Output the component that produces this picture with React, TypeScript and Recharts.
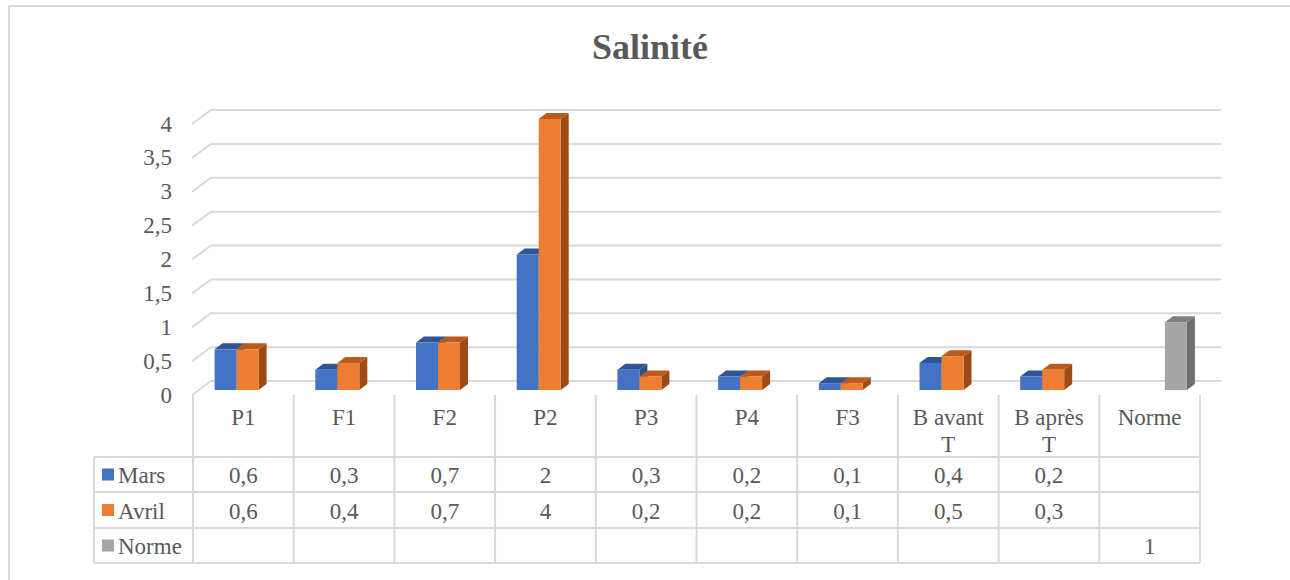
import { Bar, BarChart, CartesianGrid, XAxis, YAxis } from "recharts";

const categories = ["P1", "F1", "F2", "P2", "P3", "P4", "F3", "B avant T", "B après T", "Norme"];
const mars = [0.6, 0.3, 0.7, 2, 0.3, 0.2, 0.1, 0.4, 0.2, null];
const avril = [0.6, 0.4, 0.7, 4, 0.2, 0.2, 0.1, 0.5, 0.3, null];
const norme = [null, null, null, null, null, null, null, null, null, 1];
const yTicks = [0, 0.5, 1, 1.5, 2, 2.5, 3, 3.5, 4];

const SERIES = [
  { key: "Mars", values: mars, front: "#4472C4", top: "#2F5597", side: "#2B4F8C" },
  { key: "Avril", values: avril, front: "#ED7D31", top: "#BA5A1C", side: "#9C4B17" },
  { key: "Norme", values: norme, front: "#A5A5A5", top: "#808080", side: "#6E6E6E" },
];

const data = categories.map((c, i) => ({
  name: c,
  Mars: mars[i],
  Avril: avril[i],
  Norme: norme[i],
}));

const FONT = "Liberation Serif";
const TXT = "#595959";
const LINE = "#D9D9D9";
const BAND = (1200 - 193) / categories.length;
const ROWS_Y = [457, 492, 528, 563];
const DX = 8;
const DY = 6;
const SHIFT = 4.6;

const fmt = (v: number | null) => (v == null ? "" : String(v).replace(".", ","));

function splitLabel(s: string) {
  if (s.length <= 6) return [s];
  const k = s.lastIndexOf(" ");
  return [s.slice(0, k), s.slice(k + 1)];
}

function Box3D(props: any) {
  const { x, y, width, height, colors } = props;
  if (!height || height <= 0) return null;
  const x0 = x + SHIFT;
  const x1 = x0 + width;
  return (
    <g>
      <path d={`M${x0},${y} L${x0 + DX},${y - DY} L${x1 + DX},${y - DY} L${x1},${y} Z`} fill={colors.top} />
      <path d={`M${x1},${y} L${x1 + DX},${y - DY} L${x1 + DX},${y + height - DY} L${x1},${y + height} Z`} fill={colors.side} />
      <rect x={x0} y={y} width={width} height={height} fill={colors.front} />
    </g>
  );
}

function GridLine(props: any) {
  const { x1, x2, y1 } = props;
  return (
    <path
      key={props.key}
      d={`M${x1 - 1},${y1 + 5} L${x1 + 18},${y1 - 9} L${x2 + 21},${y1 - 9}`}
      fill="none"
      stroke={LINE}
      strokeWidth={2}
    />
  );
}

function YTick(props: any) {
  const { y, payload } = props;
  return (
    <text
      x={172}
      y={y + 5}
      textAnchor="end"
      dominantBaseline="central"
      fill={TXT}
      style={{ fontFamily: FONT, fontSize: 23 }}
    >
      {fmt(payload.value)}
    </text>
  );
}

function Cell(props: any) {
  return (
    <text
      x={props.x}
      y={props.y}
      textAnchor={props.anchor || "middle"}
      dominantBaseline="central"
      fill={TXT}
      style={{ fontFamily: FONT, fontSize: 23 }}
    >
      {props.children}
    </text>
  );
}

function TableTick(props: any) {
  const { x, payload, index } = props;
  const left = x - BAND / 2;
  const right = x + BAND / 2;
  const lines = splitLabel(payload.value);
  return (
    <g>
      <line x1={left} y1={395} x2={left} y2={563} stroke={LINE} strokeWidth={2} />
      {index === categories.length - 1 && (
        <line x1={right} y1={395} x2={right} y2={563} stroke={LINE} strokeWidth={2} />
      )}
      {lines.map((l, k) => (
        <Cell key={k} x={x} y={417 + k * 27}>
          {l}
        </Cell>
      ))}
      {SERIES.map((s, r) => (
        <Cell key={s.key} x={x} y={(ROWS_Y[r] + ROWS_Y[r + 1]) / 2 + 1}>
          {fmt(s.values[index])}
        </Cell>
      ))}
      {index === 0 && (
        <g>
          {ROWS_Y.map((ry) => (
            <line key={ry} x1={94} y1={ry} x2={1200} y2={ry} stroke={LINE} strokeWidth={2} />
          ))}
          <line x1={94} y1={457} x2={94} y2={563} stroke={LINE} strokeWidth={2} />
          {SERIES.map((s, r) => {
            const cy = (ROWS_Y[r] + ROWS_Y[r + 1]) / 2;
            return (
              <g key={s.key}>
                <rect x={102} y={cy - 6} width={12} height={12} fill={s.front} />
                <Cell x={118} y={cy + 1} anchor="start">
                  {s.key}
                </Cell>
              </g>
            );
          })}
        </g>
      )}
    </g>
  );
}

export default function App() {
  return (
    <div style={{ position: "absolute", left: 0, top: 0, width: 1290, height: 580, background: "#fff", overflow: "hidden" }}>
      <div style={{ position: "absolute", left: 8, top: 5, width: 1300, height: 600, border: `2px solid ${LINE}` }} />
      <div
        style={{
          position: "absolute",
          left: 0,
          width: 1300,
          top: 25,
          textAlign: "center",
          fontFamily: FONT,
          fontWeight: "bold",
          fontSize: 36,
          color: TXT,
          lineHeight: "44px",
        }}
      >
        Salinité
      </div>
      <div style={{ position: "absolute", left: 0, top: 0 }}>
        <BarChart
          width={1290}
          height={580}
          data={data}
          margin={{ top: 119, right: 90, left: 133, bottom: 20 }}
          barSize={22}
          barGap={0}
        >
          <CartesianGrid vertical={false} horizontal={GridLine} />
          <YAxis
            domain={[0, 4]}
            ticks={yTicks}
            width={60}
            axisLine={false}
            tickLine={false}
            tick={YTick}
            interval={0}
          />
          <XAxis dataKey="name" height={170} axisLine={false} tickLine={false} tick={TableTick} interval={0} />
          {SERIES.map((s) => (
            <Bar
              key={s.key}
              dataKey={s.key}
              isAnimationActive={false}
              shape={(p: any) => <Box3D {...p} colors={s} />}
            />
          ))}
        </BarChart>
      </div>
    </div>
  );
}
